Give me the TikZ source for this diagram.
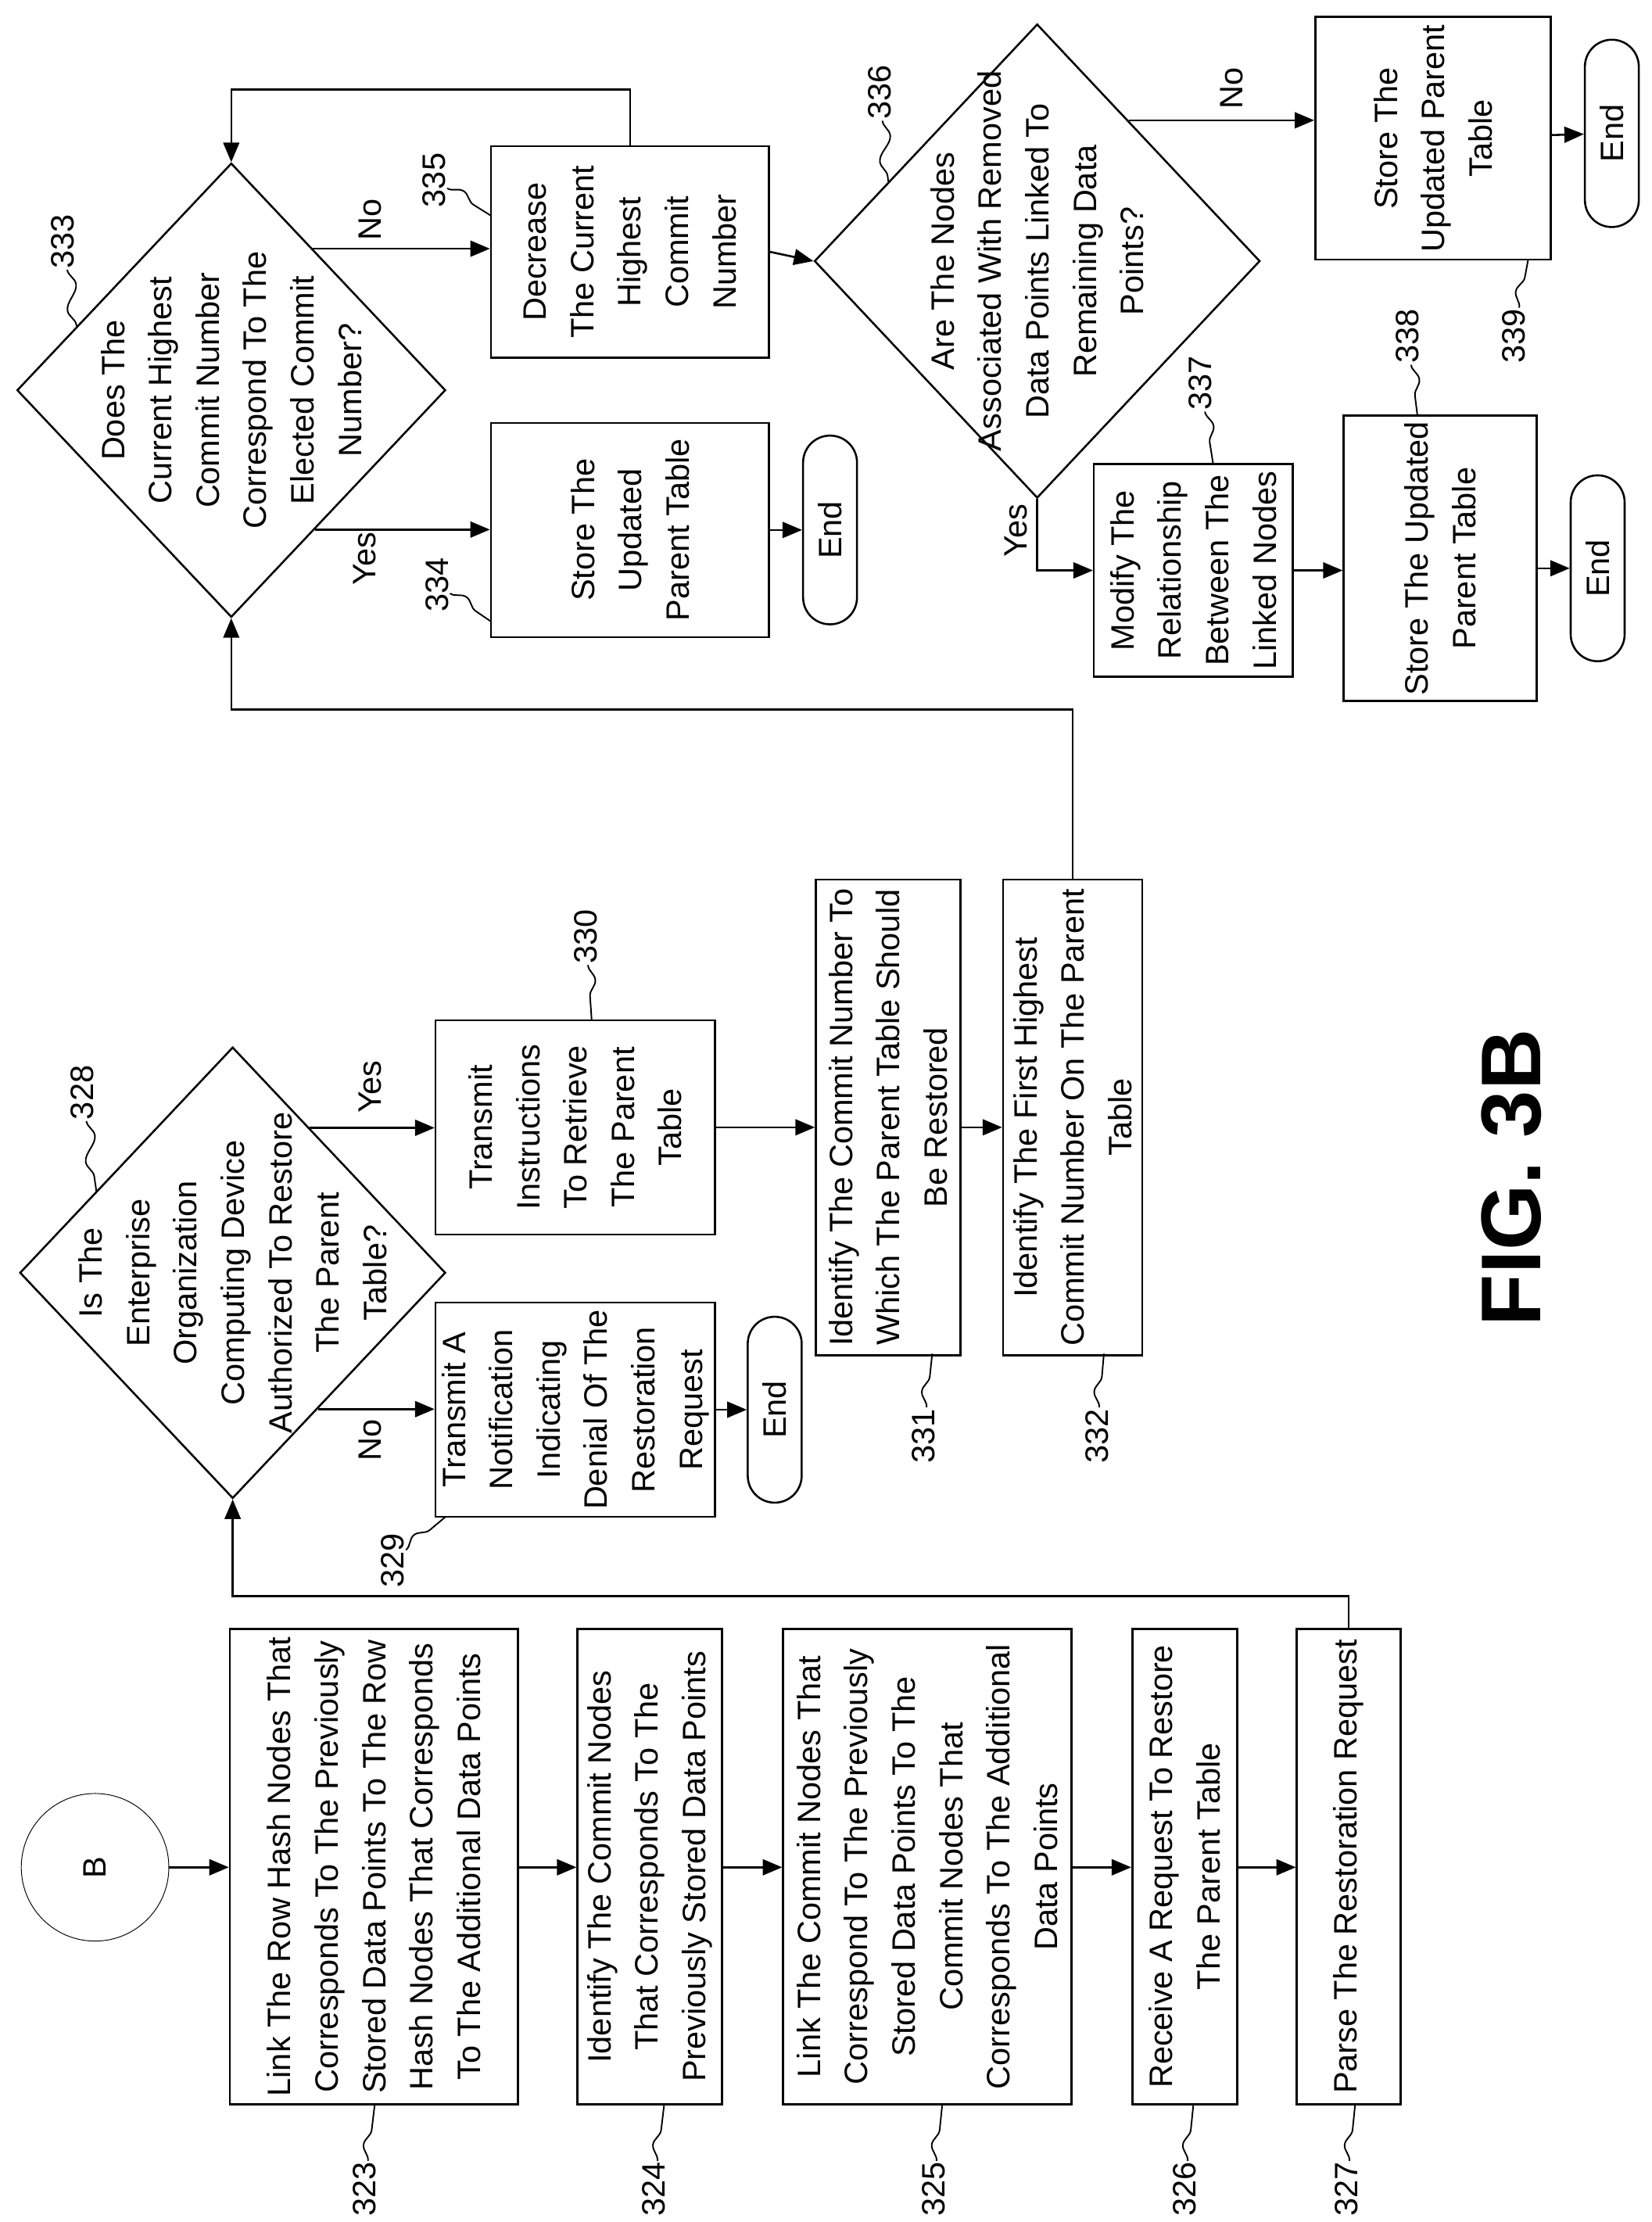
\documentclass[tikz,border=0pt]{standalone}
\usepackage{fontspec}
\setmainfont{Liberation Sans}
\usetikzlibrary{arrows.meta,shapes.geometric,decorations.pathmorphing}

\tikzset{
  txt/.style={font=\fontsize{26pt}{38pt}\selectfont},
  box/.style={draw, line width=1.6pt, rotate=90, align=center, inner sep=1pt, txt},
  dec/.style={draw, diamond, line width=1.6pt, inner sep=0pt},
  dectxt/.style={rotate=90, align=center, txt},
  term/.style={draw, line width=1.6pt, rotate=90, rounded corners=0.76cm, minimum height=1.52cm, txt},
  num/.style={rotate=90, inner sep=1pt, font=\fontsize{26pt}{30pt}\selectfont},
  yn/.style={rotate=90, inner sep=1pt, txt},
  arr/.style={line width=1.6pt, -{Triangle[length=0.55cm, width=0.45cm]}},
  line/.style={line width=1.6pt},
  squig/.style={line width=1.2pt, decorate, decoration={snake, amplitude=0.18cm, segment length=1.4cm}}
}

\begin{document}
\begin{tikzpicture}[x=0.04cm, y=-0.04cm]
  \useasboundingbox (0,0) rectangle (1164,1566);

  % left column
  \node[circle, draw, line width=0.6pt, minimum size=4.16cm, rotate=90, txt] (B) at (67,1316) {B};
  \node[box, minimum width=13.4cm, minimum height=8.12cm] (b323) at (263.5,1315.5)
    {Link The Row Hash Nodes That\\Corresponds To The Previously\\Stored Data Points To The Row\\Hash Nodes That Corresponds\\To The Additional Data Points};
  \node[box, minimum width=13.4cm, minimum height=4.08cm] (b324) at (458,1315.5)
    {Identify The Commit Nodes\\That Corresponds To The\\Previously Stored Data Points};
  \node[box, minimum width=13.4cm, minimum height=8.12cm] (b325) at (653.5,1315.5)
    {Link The Commit Nodes That\\Correspond To The Previously\\Stored Data Points To The\\Commit Nodes That\\Corresponds To The Additional\\Data Points};
  \node[box, minimum width=13.4cm, minimum height=2.96cm] (b326) at (835,1315.5)
    {Receive A Request To Restore\\The Parent Table};
  \node[box, minimum width=13.4cm, minimum height=2.92cm] (b327) at (950.5,1315.5)
    {Parse The Restoration Request};

  % authorization
  \node[dec, minimum width=12cm, minimum height=12.72cm] (d328) at (164,897) {};
  \node[dectxt] (t328) at (164,897)
    {Is The\\Enterprise\\Organization\\Computing Device\\Authorized To Restore\\The Parent\\Table?};
  \node[box, minimum width=6.04cm, minimum height=7.88cm] (b329) at (405.5,993.5)
    {Transmit A\\Notification\\Indicating\\Denial Of The\\Restoration\\Request};
  \node[box, minimum width=6.04cm, minimum height=7.88cm] (b330) at (405.5,794.5)
    {Transmit\\Instructions\\To Retrieve\\The Parent\\Table};
  \node[term, minimum width=5.24cm] (e329) at (546,993.5) {End};
  \node[box, minimum width=13.4cm, minimum height=4.08cm] (b331) at (626,787.5)
    {Identify The Commit Number To\\Which The Parent Table Should\\Be Restored};
  \node[box, minimum width=13.4cm, minimum height=3.92cm] (b332) at (756,787.5)
    {Identify The First Highest\\Commit Number On The Parent\\Table};

  % commit number check
  \node[dec, minimum width=12.08cm, minimum height=12.8cm] (d333) at (163,275) {};
  \node[dectxt] (t333) at (163,275)
    {Does The\\Current Highest\\Commit Number\\Correspond To The\\Elected Commit\\Number?};
  \node[box, minimum width=6.04cm, minimum height=7.84cm] (b334) at (444,373.5)
    {Store The\\Updated\\Parent Table};
  \node[box, minimum width=5.96cm, minimum height=7.84cm] (b335) at (444,177.5)
    {Decrease\\The Current\\Highest\\Commit\\Number};
  \node[term, minimum width=5.32cm] (e334) at (585,373.5) {End};

  % linked nodes check
  \node[dec, minimum width=12.56cm, minimum height=13.36cm] (d336) at (731,184) {};
  \node[dectxt] (t336) at (731,184)
    {Are The Nodes\\Associated With Removed\\Data Points Linked To\\Remaining Data\\Points?};
  \node[box, minimum width=6.84cm, minimum height=6.64cm] (b339) at (1010,97.5)
    {Store The\\Updated Parent\\Table};
  \node[term, minimum width=5.28cm] (e339) at (1136,94) {End};
  \node[box, minimum width=6cm, minimum height=5.6cm] (b337) at (841,402)
    {Modify The\\Relationship\\Between The\\Linked Nodes};
  \node[box, minimum width=8.04cm, minimum height=5.44cm] (b338) at (1015,393.5)
    {Store The Updated\\Parent Table};
  \node[term, minimum width=5.24cm] (e338) at (1126,400.5) {End};

  \node[rotate=90, font=\fontsize{68pt}{70pt}\selectfont\bfseries] (fig) at (1065,830) {FIG. 3B};

  % yes / no
  \node[yn] at (261,766) {Yes};
  \node[yn] at (261,1015) {No};
  \node[yn] at (261,155) {No};
  \node[yn] at (257,394) {Yes};
  \node[yn] at (868,62) {No};
  \node[yn] at (716,374) {Yes};

  % connectors
  \coordinate (j1) at (0,1125);
  \coordinate (j2) at (0,500);
  \coordinate (j3) at (0,63);
  \draw[arr] (B) -- (B -| b323.north);
  \draw[arr] (b323.south |- B) -- (b324.north |- B);
  \draw[arr] (b324.south |- B) -- (b325.north |- B);
  \draw[arr] (b325.south |- B) -- (b326.north |- B);
  \draw[arr] (b326.south |- B) -- (b327.north |- B);
  \draw[arr] (b327.east) -- (b327.east |- j1) -| (d328.south);
  \draw[arr] (d328.62.5) -- (d328.62.5 -| b330.north);
  \draw[arr] (d328.-58.6) -- (d328.-58.6 -| b329.north);
  \draw[arr] (b329) -- (e329);
  \draw[arr] (b330.south) -- (b330.south -| b331.north);
  \draw[arr] (b331.south |- b330.south) -- (b332.north |- b330.south);
  \draw[arr] (b332.east) -- (b332.east |- j2) -| (d333.south);
  \draw[arr] (d333.-59.5) -- (d333.-59.5 -| b334.north);
  \draw[arr] (d333.60.5) -- (d333.60.5 -| b335.north);
  \draw[arr] (b334) -- (e334);
  \draw[arr] (b335.east) -- (b335.east |- j3) -| (d333.north);
  \draw[arr] (b335.south) -- (d336.west);
  \draw[arr] (d336.57.8) -- (d336.57.8 -| b339.north);
  \draw[arr] (b339) -- (e339);
  \draw[arr] (d336.south) |- (b337.north);
  \draw[arr] (b337.south) -- (b337.south -| b338.north);
  \draw[arr] (e338 -| b338.south) -- (e338);

  % reference numerals
  \foreach \n/\lx/\ly/\ex/\ey in {323/257/1543/264/1484, 324/461/1543/468/1484,
      325/658/1543/664/1484, 326/835/1543/841/1484, 327/949/1543/955/1484,
      328/58/770/68/840, 329/277/1100/314/1069, 330/413/660/417/719,
      331/651/1012/657/954, 332/773/1012/778/954, 333/44/170/54/230,
      334/308/412/346/438, 335/306/127/346/152, 336/620/65/626/128,
      337/846/270/855/327, 338/992/237/999/293, 339/1067/237/1077/183} {
    \node[num] (n\n) at (\lx,\ly) {\n};
    \coordinate (s\n) at (\ex,\ey);
    \draw[squig] (n\n) -- (s\n);
  }
\end{tikzpicture}
\end{document}
